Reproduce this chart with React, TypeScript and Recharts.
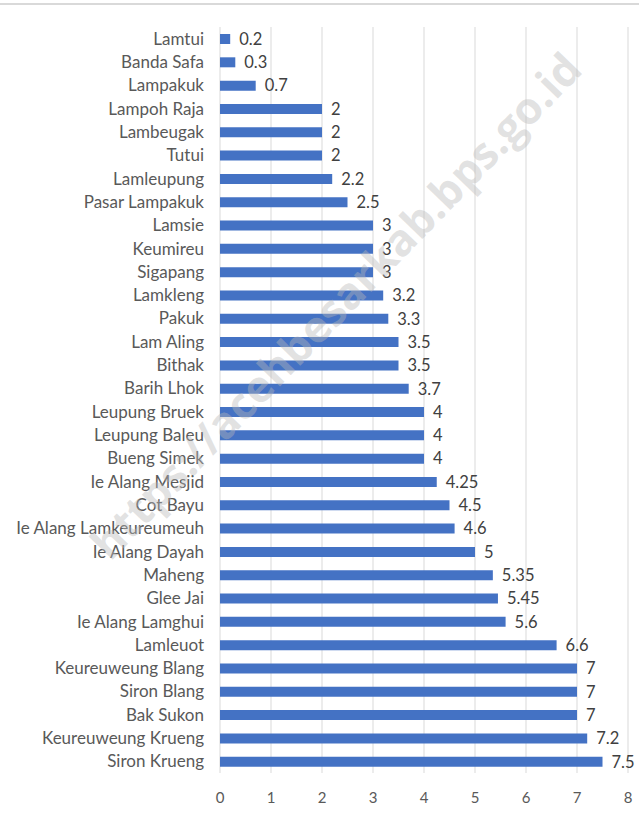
import { BarChart, Bar, XAxis, YAxis, CartesianGrid, LabelList } from 'recharts';

const villages = [
  'Lamtui', 'Banda Safa', 'Lampakuk', 'Lampoh Raja', 'Lambeugak', 'Tutui', 'Lamleupung',
  'Pasar Lampakuk', 'Lamsie', 'Keumireu', 'Sigapang', 'Lamkleng', 'Pakuk', 'Lam Aling',
  'Bithak', 'Barih Lhok', 'Leupung Bruek', 'Leupung Baleu', 'Bueng Simek', 'Ie Alang Mesjid',
  'Cot Bayu', 'Ie Alang Lamkeureumeuh', 'Ie Alang Dayah', 'Maheng', 'Glee Jai',
  'Ie Alang Lamghui', 'Lamleuot', 'Keureuweung Blang', 'Siron Blang', 'Bak Sukon',
  'Keureuweung Krueng', 'Siron Krueng',
];

const distances = [
  0.2, 0.3, 0.7, 2, 2, 2, 2.2, 2.5, 3, 3, 3, 3.2, 3.3, 3.5, 3.5, 3.7, 4, 4, 4, 4.25,
  4.5, 4.6, 5, 5.35, 5.45, 5.6, 6.6, 7, 7, 7, 7.2, 7.5,
];

const xTicks = [0, 1, 2, 3, 4, 5, 6, 7, 8];

const chartData = villages.map((name, i) => ({ name, value: distances[i] }));

const FONT = 'Lato, "Liberation Sans", sans-serif';

export default function App() {
  return (
    <div style={{ position: 'absolute', left: 0, top: 0, width: 639, height: 816, background: '#fff', fontFamily: FONT }}>
      <div style={{ position: 'absolute', left: 0, top: 3, width: 639, height: 2, background: '#d9d9d9' }} />
      <BarChart
        width={639}
        height={816}
        data={chartData}
        layout="vertical"
        margin={{ top: 27, right: 11, bottom: 13, left: 0 }}
        barCategoryGap={0}
      >
        <CartesianGrid horizontal={false} stroke="#d9d9d9" strokeWidth={1} />
        <XAxis
          type="number"
          domain={[0, 8]}
          ticks={xTicks}
          height={30}
          axisLine={false}
          tickLine={false}
          tickSize={0}
          tickMargin={19}
          tick={{ fontSize: 15, fill: '#595959', fontFamily: FONT }}
        />
        <YAxis
          type="category"
          dataKey="name"
          width={220}
          axisLine={false}
          tickLine={false}
          tickSize={0}
          tickMargin={16}
          interval={0}
          tick={{ fontSize: 17, fill: '#595959', fontFamily: FONT }}
        />
        <Bar dataKey="value" fill="#4472c4" barSize={10} isAnimationActive={false}>
          <LabelList dataKey="value" position="right" offset={9} style={{ fontSize: 16.5, fill: '#404040', fontFamily: FONT }} />
        </Bar>
      </BarChart>
      <div
        style={{
          position: 'absolute',
          left: 335,
          top: 305,
          transform: 'translate(-50%, -50%) rotate(-46deg)',
          whiteSpace: 'nowrap',
          fontSize: 44,
          fontWeight: 700,
          fontFamily: '"Open Sans", sans-serif',
          color: 'rgba(185,185,185,0.42)',
          pointerEvents: 'none',
        }}
      >
        https://acehbesarkab.bps.go.id
      </div>
    </div>
  );
}
